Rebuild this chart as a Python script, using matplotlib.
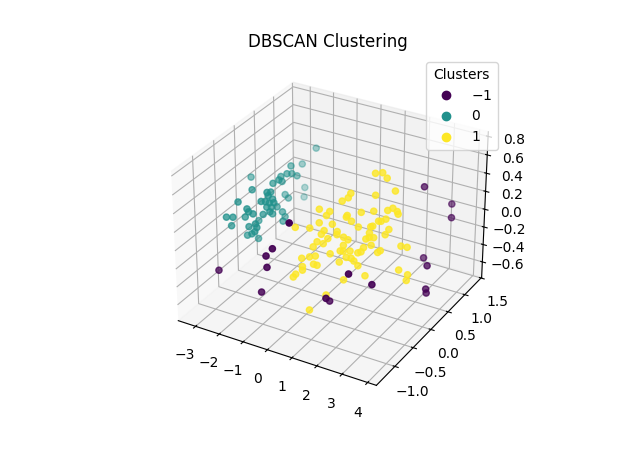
import numpy as np
import matplotlib
matplotlib.use('Agg')
import matplotlib.pyplot as plt

x = [0.86,0.18,-0.08,-2.26,-0.05,-0.29,2.04,1.64,2.98,3.45,3.82,3.32,4.01,2.75,3.27,4.17,4.18,-2.58,-2.89,-2.24,-1.97,-2.14,-2.28,-2.13,-1.85,-2.05,-3.39,-2.00,-3.06,-2.27,-1.48,-1.68,-1.42,-2.49,-2.35,-3.21,-2.28,-1.56,-1.58,-1.45,-1.63,-1.49,-1.67,-1.83,-1.98,-1.95,-1.87,-1.53,-1.74,-1.77,-1.71,-1.72,-2.24,-2.50,-2.30,-1.96,-2.43,-1.67,-2.58,-2.04,-1.56,-1.49,-1.82,-1.89,-2.32,-2.27,1.91,2.12,2.30,2.66,2.10,1.34,1.30,1.15,0.53,0.87,0.80,1.82,2.18,2.60,2.73,2.89,2.94,1.43,1.41,1.60,0.65,1.05,2.42,2.49,2.62,-0.03,0.41,1.86,2.23,2.28,2.80,0.86,1.26,0.81,1.28,2.24,2.73,1.50,1.04,1.66,2.19,2.28,2.41,0.75,0.95,1.57,2.19,2.40,3.30,3.50,0.67,1.52,1.61,1.82,2.07,2.15,2.66,2.72,1.24,0.65,0.82,0.43,1.76,1.91,1.59,2.02,0.84,0.95,2.18,0.52,0.55,0.39,0.34,3.44,2.48,1.87,3.75,3.76,1.48,1.11]
y = [-1.43,-1.43,-1.43,-1.30,-1.43,-1.43,-1.28,-0.93,0.70,1.18,0.90,0.48,0.08,-1.17,-0.91,-0.06,-0.05,1.41,1.22,0.52,0.25,0.48,0.70,0.19,-0.03,0.17,0.18,-0.09,1.39,-0.45,-0.55,-0.34,-0.56,0.51,0.51,1.46,-0.79,-0.37,-0.64,-0.61,-0.41,-0.38,-0.45,-0.24,-0.01,-0.77,-0.78,-0.46,-0.27,-0.00,-0.52,-0.76,-0.65,-0.95,-0.91,0.18,-0.21,-0.05,-0.79,-0.68,-0.80,-0.81,-0.67,-0.70,-0.56,-0.32,0.08,0.13,0.13,0.11,-0.04,-0.19,-0.23,-0.29,-0.48,-0.43,-0.47,-0.23,-0.14,-0.05,-0.00,0.01,-0.00,-0.34,-0.35,-0.34,-0.56,-0.48,-0.17,-0.15,-0.11,-0.74,-0.65,-0.33,-0.25,-0.23,-0.15,-0.57,-0.49,-0.61,-0.51,-0.29,-0.20,-0.48,-0.59,-0.47,-0.35,-0.32,-0.29,-0.68,-0.65,-0.53,-0.41,-0.35,-0.16,-0.13,-0.73,-0.58,-0.56,-0.52,-0.48,-0.45,-0.35,-0.32,-0.66,-0.81,-0.77,-0.87,-0.58,-0.55,-0.65,-0.55,-0.83,-0.81,-0.55,-0.91,-0.93,-1.00,-1.03,-0.31,-0.56,-0.72,-0.28,-0.32,-0.92,-1.11]
z = [0.637,0.314,0.216,-0.164,0.097,-0.190,-0.121,-0.322,0.432,0.111,0.087,-0.245,-0.127,0.156,-0.014,-0.317,-0.364,0.222,0.082,0.341,0.365,0.276,0.167,0.343,0.401,0.301,0.248,0.373,-0.260,0.407,0.471,0.388,0.444,0.005,-0.024,-0.407,0.392,0.331,0.398,0.395,0.298,0.300,0.262,0.174,0.088,0.335,0.313,0.226,0.120,0.044,0.205,0.295,0.182,0.268,0.268,-0.089,-0.029,-0.034,0.111,0.103,0.213,0.183,0.061,0.043,-0.057,-0.177,0.709,0.714,0.669,0.566,0.531,0.547,0.510,0.485,0.418,0.402,0.367,0.394,0.402,0.410,0.426,0.399,0.378,0.370,0.354,0.321,0.310,0.297,0.324,0.321,0.340,0.273,0.267,0.275,0.278,0.281,0.257,0.246,0.238,0.217,0.213,0.227,0.213,0.192,0.181,0.173,0.179,0.192,0.189,0.157,0.141,0.128,0.108,0.128,0.120,0.112,0.114,0.082,0.079,0.082,0.068,0.074,0.071,0.084,0.058,0.033,0.041,0.023,0.031,0.023,-0.007,0.001,-0.023,-0.034,-0.037,-0.045,-0.074,-0.104,-0.128,-0.072,-0.118,-0.152,-0.110,-0.156,-0.273,-0.394]
labels = [-1]*17 + [0]*49 + [1]*(len(x)-66)

W, H = 640, 458
fig = plt.figure(figsize=(W/100, H/100), dpi=100)
ax = fig.add_subplot(projection='3d')
sc = ax.scatter(x, y, z, c=labels, cmap='viridis')
ax.set_xlim(-3.74, 4.34)
ax.set_ylim(-1.49, 1.52)
ax.set_zlim(-0.78, 0.85)
ax.set_title('DBSCAN Clustering')
ax.legend(*sc.legend_elements(), title='Clusters', loc='upper right',
          bbox_to_anchor=(497.5/W, 1-62/H), bbox_transform=fig.transFigure,
          borderaxespad=0)
fig.savefig('out.png', dpi=100)
